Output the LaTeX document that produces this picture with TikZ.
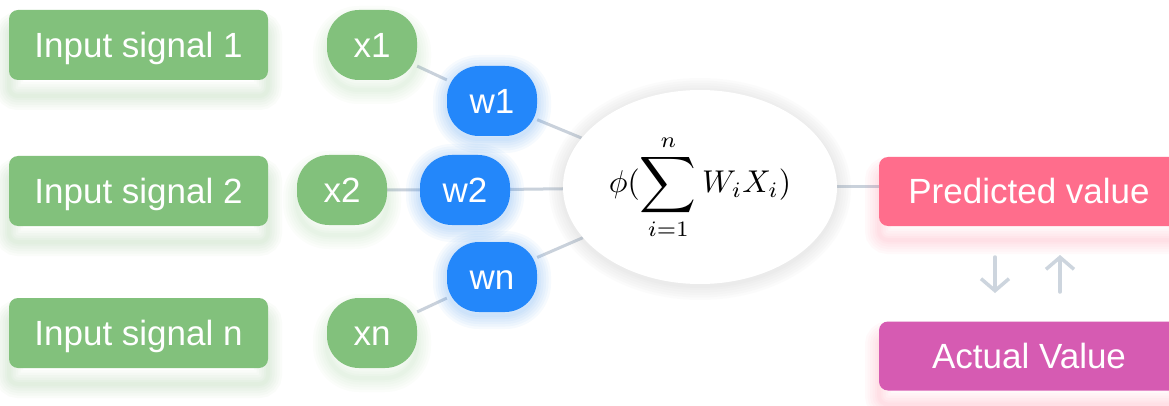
\documentclass[tikz,border=0pt]{standalone}
\usepackage{fontspec}
\usepackage{graphicx}
\setmainfont{Liberation Sans}
\usetikzlibrary{shapes.geometric,arrows.meta,backgrounds}

\definecolor{nodegreen}{RGB}{130,193,124}
\definecolor{nodeblue}{RGB}{35,135,250}
\definecolor{predpink}{RGB}{255,109,140}
\definecolor{actmag}{RGB}{214,91,178}
\definecolor{wirecol}{RGB}{201,209,219}
\definecolor{arrowcol}{RGB}{205,213,222}

\newcommand\labelfont{\fontsize{35}{40}\selectfont}
\newcommand\bigsum{\mathop{\vcenter{\hbox{\scalebox{1.25}{$\displaystyle\sum$}}}}\limits}

\tikzset{
  % soft halo: stacked translucent strokes of growing width
  glow/.style n args={3}{
    preaction={draw=#1, draw opacity=#3, line width=28pt, transform canvas={yshift=#2}},
    preaction={draw=#1, draw opacity=#3, line width=23pt, transform canvas={yshift=#2}},
    preaction={draw=#1, draw opacity=#3, line width=18pt, transform canvas={yshift=#2}},
    preaction={draw=#1, draw opacity=#3, line width=13pt, transform canvas={yshift=#2}},
    preaction={draw=#1, draw opacity=#3, line width=8pt, transform canvas={yshift=#2}},
    preaction={draw=#1, draw opacity=#3, line width=4pt, transform canvas={yshift=#2}}
  },
  label text/.style={text=white, font=\labelfont, text height=25pt, text depth=0pt, inner sep=0pt},
  inbox/.style={rectangle, rounded corners=9pt, fill=nodegreen, minimum width=259pt,
    minimum height=70pt, label text, glow={nodegreen}{-16pt}{.04}},
  xpill/.style={rectangle, rounded corners=32pt, fill=nodegreen, minimum width=90pt,
    minimum height=70pt, label text, glow={nodegreen}{-10pt}{.03}},
  wpill/.style={rectangle, rounded corners=32pt, fill=nodeblue, minimum width=90pt,
    minimum height=70pt, label text, glow={nodeblue}{-3pt}{.04}},
  outbox/.style={rectangle, rounded corners=9pt, minimum width=300pt,
    minimum height=69pt, label text},
  sumnode/.style={ellipse, fill=white, minimum width=274pt, minimum height=194pt,
    inner sep=0pt, font=\fontsize{10}{12}\selectfont, glow={black!40}{-2pt}{.03}},
  wire/.style={draw=wirecol, line width=3pt},
  updown/.style={draw=arrowcol, line width=3.5pt, line cap=round,
    -{Straight Barb[length=12pt,width=28pt]}}
}

\begin{document}
\begin{tikzpicture}[x=1pt,y=-1pt]
\useasboundingbox (0,0) rectangle (1169,406);
\clip (0,0) rectangle (1169,406);

% inputs
\node[inbox] (in1) at (138.5,45)  {Input signal 1};
\node[inbox] (in2) at (138.5,191) {Input signal 2};
\node[inbox] (inn) at (138.5,333) {Input signal n};

% input values
\node[xpill] (x1) at (372,45)  {x1};
\node[xpill] (x2) at (342,190) {x2};
\node[xpill] (xn) at (372,333) {xn};

% weights
\node[wpill] (w1) at (492,101) {w1};
\node[wpill] (w2) at (465,190) {w2};
\node[wpill] (wn) at (492,277) {wn};

% neuron
\node[sumnode] (sum) at (700,187)
  {\scalebox{3.15}{$\displaystyle\phi(\bigsum_{i=1}^{n} W_iX_i)$}};

% outputs
\node[outbox, fill=predpink, glow={predpink}{-14pt}{.035}] (pred) at (1029,191.5) {Predicted value};
\node[outbox, fill=actmag, glow={predpink}{-14pt}{.035}] (act) at (1029,356) {Actual Value};

% error feedback arrows
\coordinate (dtop) at (995,257);
\coordinate (dbot) at (995,293);
\coordinate (ubot) at (1060,292);
\coordinate (utop) at (1060,255);
\draw[updown] (dtop) -- (dbot);
\draw[updown] (ubot) -- (utop);

\begin{pgfonlayer}{background}
  \fill[white] (0,0) rectangle (1169,406);
  \draw[wire] (x1) -- (w1) -- (sum);
  \draw[wire] (x2) -- (w2) -- (sum);
  \draw[wire] (xn) -- (wn) -- (sum);
  \draw[wire] (sum.east) -- (sum.east -| pred.west);
\end{pgfonlayer}
\end{tikzpicture}
\end{document}
